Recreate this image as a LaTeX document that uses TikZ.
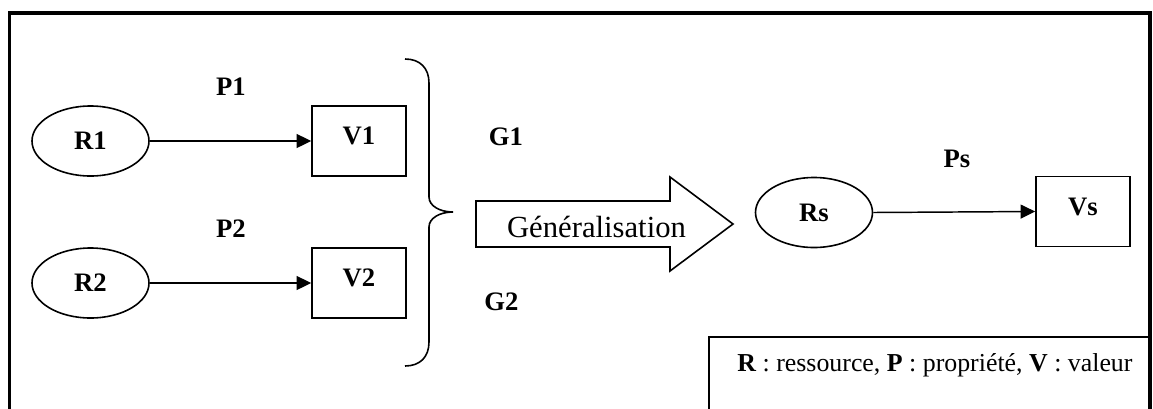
\documentclass[tikz,border=0pt]{standalone}
\usepackage{fontspec}
\setmainfont{Liberation Serif}
\usetikzlibrary{arrows.meta,shapes.geometric}
\begin{document}
\begin{tikzpicture}[x=0.75pt,y=-0.75pt,
  bfont/.style={font=\fontsize{20}{22}\selectfont\bfseries},
  res/.style={ellipse,draw,line width=1.2pt,minimum width=87.75pt,minimum height=52.5pt,inner sep=0pt,bfont},
  val/.style={rectangle,draw,line width=1.2pt,minimum width=70.5pt,minimum height=52.5pt,inner sep=0pt,text height=12.75pt,text depth=7.5pt,bfont},
  lab/.style={anchor=base,inner sep=0pt,bfont},
  conn/.style={line width=1.1pt,-{Triangle[length=11pt,width=10.5pt]}},
  frameline/.style={line width=2.5pt},
  thinline/.style={line width=1.2pt},
]
\useasboundingbox (0,0) rectangle (1153,408);
\clip (0,0) rectangle (1153,408);
% outer frame
\draw[frameline] (9.5,430) -- (9.5,13) -- (1150,13) -- (1150,430);
% left group
\node[res] (R1) at (90.5,141) {R1};
\node[val] (V1) at (359,141) {V1};
\node[res] (R2) at (90.5,283) {R2};
\node[val] (V2) at (359,283) {V2};
\node[lab] (P1) at (231,95) {P1};
\node[lab] (P2) at (231,237) {P2};
\draw[conn] (R1.east) -- (V1.west);
\draw[conn] (R2.east) -- (V2.west);
% brace
\draw[thinline] (405,59) .. controls (420,59) and (429,68) .. (429,83) -- (429,197)
  .. controls (429,206) and (440,212) .. (453,212)
  .. controls (440,212) and (429,218) .. (429,227) -- (429,342)
  .. controls (429,357) and (420,366) .. (405,366);
\node[lab] (G1) at (506,145) {G1};
\node[lab] (G2) at (501.5,310) {G2};
% generalisation arrow
\draw[thinline] (476,201) -- (670,201) -- (670,177) -- (733,224) -- (670,271) -- (670,247) -- (476,247) -- cycle;
\node[anchor=base,inner sep=0pt,font=\fontsize{23}{25}\selectfont] (gen) at (596.5,237) {Généralisation};
% right group
\node[res] (Rs) at (814,212.5) {Rs};
\node[val] (Vs) at (1083,211.5) {Vs};
\node[lab] (Ps) at (957,167) {Ps};
\draw[conn] (Rs.east) -- (Vs.west);
% legend
\draw[thinline] (709,430) -- (709,337) -- (1150,337);
\node[anchor=base west,inner sep=0pt,font=\fontsize{19.4}{22}\selectfont] (legend) at (737,371.5)
  {\textbf{R} : ressource, \textbf{P} : propriété, \textbf{V} : valeur};
\end{tikzpicture}
\end{document}
